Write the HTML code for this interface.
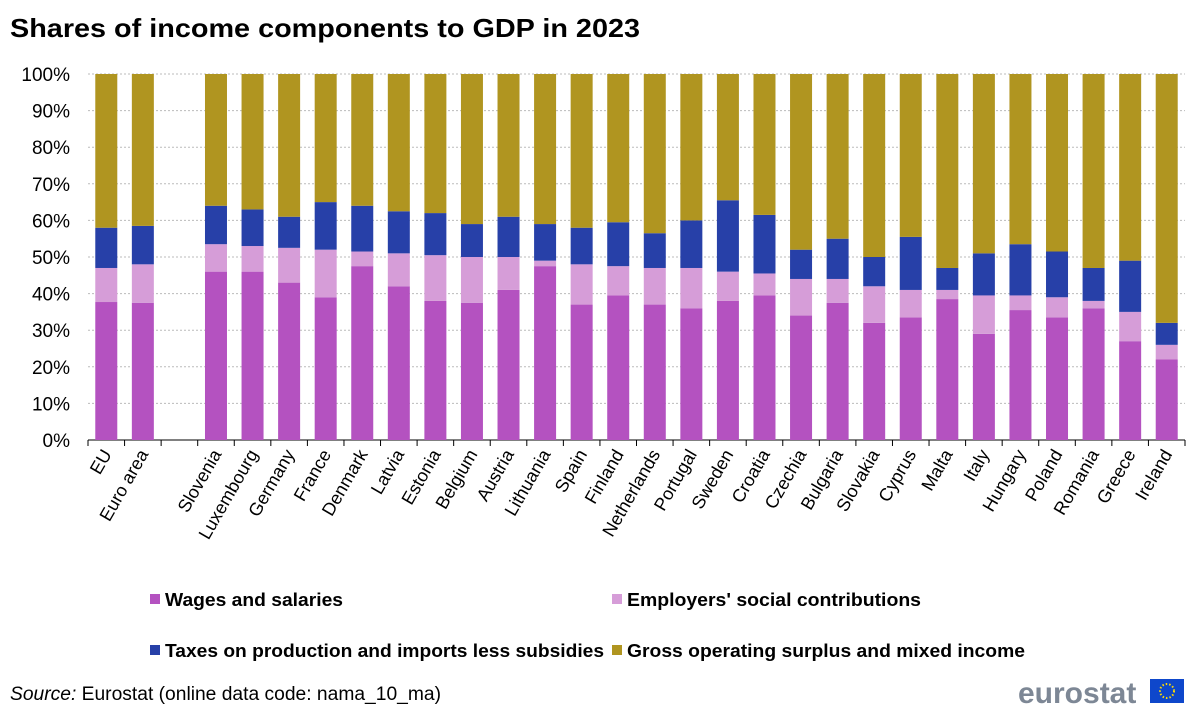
<!DOCTYPE html>
<html><head><meta charset="utf-8"><style>
body{margin:0;background:#fff;font-family:"Liberation Sans",Arial,sans-serif}
</style></head><body>
<svg width="1200" height="712" xmlns="http://www.w3.org/2000/svg" style="font-family:'Liberation Sans',Arial,sans-serif">
<text x="10" y="37" font-size="26" font-weight="bold" textLength="630" lengthAdjust="spacingAndGlyphs">Shares of income components to GDP in 2023</text>
<g id="grid"></g><g id="bars"></g><g id="xlabels"></g>
<g>
<rect x="150" y="594" width="10" height="10" fill="#b452c0"/>
<text x="165" y="606" font-size="18" font-weight="bold" textLength="178" lengthAdjust="spacingAndGlyphs">Wages and salaries</text>
<rect x="612" y="594" width="10" height="10" fill="#d69dd8"/>
<text x="627" y="606" font-size="18" font-weight="bold" textLength="294" lengthAdjust="spacingAndGlyphs">Employers' social contributions</text>
<rect x="150" y="645" width="10" height="10" fill="#2740a8"/>
<text x="165" y="657" font-size="18" font-weight="bold" textLength="439" lengthAdjust="spacingAndGlyphs">Taxes on production and imports less subsidies</text>
<rect x="612" y="645" width="10" height="10" fill="#b09520"/>
<text x="627" y="657" font-size="18" font-weight="bold" textLength="398" lengthAdjust="spacingAndGlyphs">Gross operating surplus and mixed income</text>
</g>
<text x="10" y="700" font-size="19" textLength="431" lengthAdjust="spacingAndGlyphs"><tspan font-style="italic">Source:</tspan> Eurostat (online data code: nama_10_ma)</text>
<g>
<text x="1018" y="703" font-size="30" font-weight="bold" fill="#7d8795">eurostat</text>
<rect x="1150" y="679" width="34" height="24" fill="#0e47cb"/>
<circle cx="1167" cy="691" r="7" fill="none" stroke="#ffdd00" stroke-width="2" stroke-dasharray="1.5 2"/>
</g>
</svg>
<script>
const categories=["EU","Euro area","","Slovenia","Luxembourg","Germany","France","Denmark","Latvia","Estonia","Belgium","Austria","Lithuania","Spain","Finland","Netherlands","Portugal","Sweden","Croatia","Czechia","Bulgaria","Slovakia","Cyprus","Malta","Italy","Hungary","Poland","Romania","Greece","Ireland"];
const wages=[37.7,37.5,null,46,46,43,39,47.5,42,38,37.5,41,47.5,37,39.5,37,36,38,39.5,34,37.5,32,33.5,38.5,29,35.5,33.5,36,27,22];
const contributions=[9.3,10.5,null,7.5,7,9.5,13,4,9,12.5,12.5,9,1.5,11,8,10,11,8,6,10,6.5,10,7.5,2.5,10.5,4,5.5,2,8,4];
const taxes=[11,10.5,null,10.5,10,8.5,13,12.5,11.5,11.5,9,11,10,10,12,9.5,13,19.5,16,8,11,8,14.5,6,11.5,14,12.5,9,14,6];
const surplus=categories.map((c,i)=>wages[i]==null?null:100-wages[i]-contributions[i]-taxes[i]);
const yTicks=[0,10,20,30,40,50,60,70,80,90,100];
const NS="http://www.w3.org/2000/svg";
const x0=88,x1=1185,yb=440,yt=74,bw=22;
const step=(x1-x0)/categories.length;
const xc=i=>x0+step*(i+0.5);
const y=v=>yb-(yb-yt)*v/100;
function mk(t,a,p){const e=document.createElementNS(NS,t);for(const k in a)e.setAttribute(k,a[k]);p.appendChild(e);return e;}
const grid=document.getElementById('grid');
yTicks.forEach(t=>{
 const l=mk('line',{x1:x0,x2:x1,y1:y(t),y2:y(t),stroke:t==0?'#000':'#bbb','stroke-dasharray':t==0?'':'2 2'},grid);
 
 
 const tx=mk('text',{x:70,y:y(t)+7,'font-size':19,'text-anchor':'end'},grid);tx.textContent=t+'%';
 
 
});
const bars=document.getElementById('bars'),xl=document.getElementById('xlabels');
const series=[[wages,'#b452c0','wages'],[contributions,'#d69dd8','contributions'],[taxes,'#2740a8','taxes'],[surplus,'#b09520','surplus']];
categories.forEach((c,i)=>{
 const tk=mk('line',{x1:x0+step*i,x2:x0+step*i,y1:yb,y2:yb+6,stroke:'#000'},grid);
 
 
 if(wages[i]==null)return;
 let cum=0;
 series.forEach(([arr,col,nm])=>{
  const v=arr[i];
  const r=mk('rect',{x:xc(i)-bw/2,y:y(cum+v),width:bw,height:y(cum)-y(cum+v),fill:col},bars);
  
  
  cum+=v;
 });
 const t=mk('text',{x:xc(i)+6,y:yb+14,'font-size':18,'text-anchor':'end',transform:`rotate(-60 ${xc(i)+6} ${yb+14})`},xl);
 t.textContent=c;
 
 
});
const last=mk('line',{x1:x1,x2:x1,y1:yb,y2:yb+6,stroke:'#000'},grid);


</script>
</body></html>
